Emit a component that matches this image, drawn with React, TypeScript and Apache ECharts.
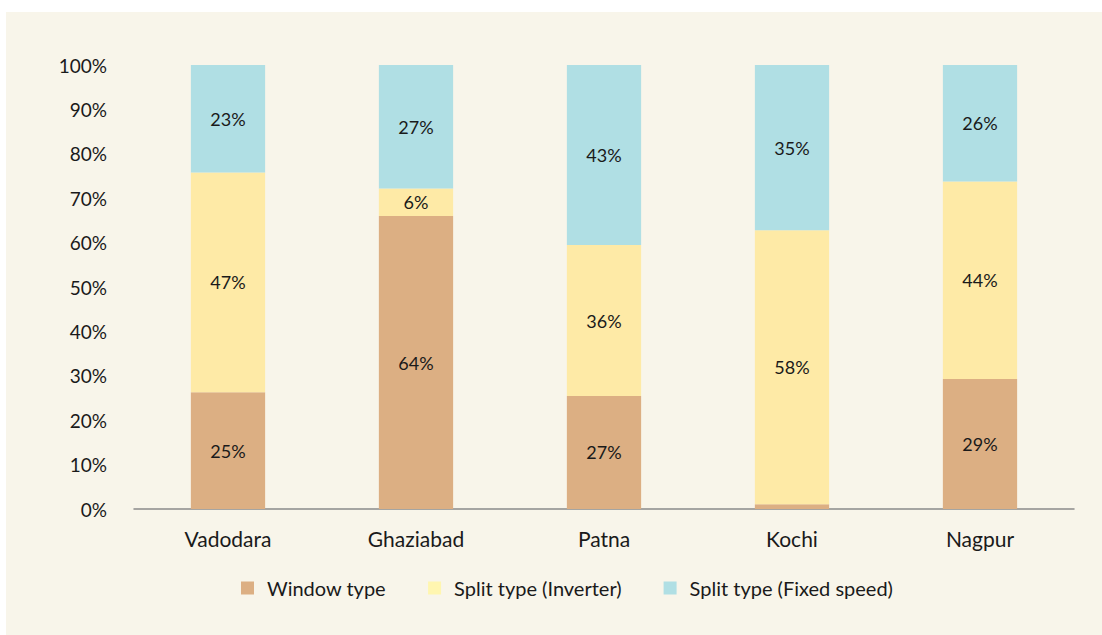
import React, { useEffect, useRef } from "react";
import * as echarts from "echarts";

const cities = ["Vadodara", "Ghaziabad", "Patna", "Kochi", "Nagpur"];
const windowType = [25, 64, 27, 1, 29];
const splitInverter = [47, 6, 36, 58, 44];
const splitFixed = [23, 27, 43, 35, 26];
const yTicks = [0, 10, 20, 30, 40, 50, 60, 70, 80, 90, 100];
const seriesNames = ["Window type", "Split type (Inverter)", "Split type (Fixed speed)"];
const colors = ["#dcaf83", "#feeaa6", "#b0dfe4"];
const legendColors = ["#dcaf83", "#fff6b0", "#b0dfe4"];

export default function App() {
  const ref = useRef<HTMLDivElement>(null);
  useEffect(() => {
    if (!ref.current) return;
    const chart = echarts.init(ref.current, undefined, { renderer: "svg" });
    const raw = [windowType, splitInverter, splitFixed];
    const totals = cities.map((_, i) => raw.reduce((s, arr) => s + arr[i], 0));
    const font = "Lato";
    const series = raw.map((arr, k) => ({
      name: seriesNames[k],
      type: "bar",
      stack: "total",
      barWidth: "39.5%",
      itemStyle: { color: colors[k] },
      label: {
        show: true,
        position: "inside",
        color: "#1a1a1a",
        fontSize: 18,
        fontFamily: font,
        formatter: (p: any) => (arr[p.dataIndex] >= 3 ? arr[p.dataIndex] + "%" : ""),
      },
      data: arr.map((v, i) => ({ value: (v / totals[i]) * 100 })),
    }));
    chart.setOption({
      animation: false,
      backgroundColor: "#ffffff",
      graphic: [
        {
          type: "rect",
          z: -10,
          silent: true,
          shape: { x: 6, y: 12, width: 1096, height: 623 },
          style: { fill: "#f8f5ea" },
        },
      ],
      grid: { left: 134, right: 28, top: 65, bottom: 126, containLabel: false },
      legend: {
        bottom: 32,
        left: 236,
        itemWidth: 13,
        itemHeight: 13,
        itemGap: 42,
        icon: "rect",
        textStyle: { fontSize: 20, fontFamily: font, color: "#1a1a1a", padding: [0, 0, 0, 8] },
        data: seriesNames.map((n, k) => ({ name: n, itemStyle: { color: legendColors[k] } })),
      },
      xAxis: {
        type: "category",
        data: cities,
        axisLine: { lineStyle: { color: "#8a8a8a", width: 1.5 } },
        axisTick: { show: false },
        axisLabel: { fontSize: 21, fontFamily: font, color: "#1a1a1a", margin: 19 },
      },
      yAxis: {
        type: "value",
        min: yTicks[0],
        max: yTicks[yTicks.length - 1],
        interval: 10,
        axisLine: { show: false },
        axisTick: { show: false },
        splitLine: { show: false },
        axisLabel: { fontSize: 19, fontFamily: font, color: "#1a1a1a", margin: 27, formatter: "{value}%" },
      },
      series,
    });
    return () => chart.dispose();
  }, []);
  return (
    <div
      ref={ref}
      style={{ position: "fixed", left: 0, top: 0, width: 1102, height: 635 }}
    />
  );
}
